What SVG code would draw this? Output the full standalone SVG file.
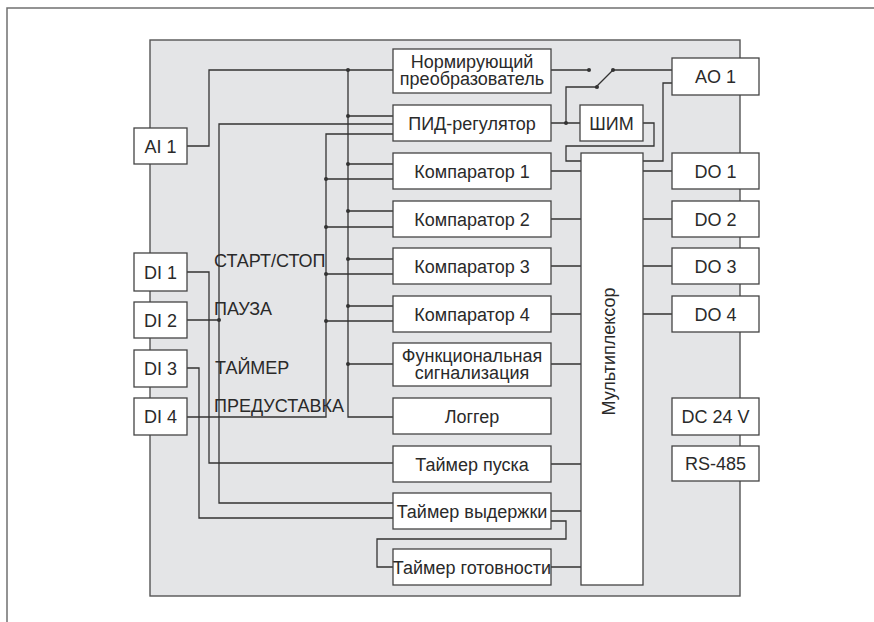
<svg xmlns="http://www.w3.org/2000/svg" width="874" height="622" viewBox="0 0 874 622">
<style>
.frame{fill:none;stroke:#707070;stroke-width:1.5}
.panel{fill:#e4e5e7;stroke:#555;stroke-width:1.4}
.box{fill:#fff;stroke:#444;stroke-width:1.3}
.w{fill:none;stroke:#333;stroke-width:1.3}
.dot{fill:#333}
text{font-family:"Liberation Sans",Arial,sans-serif;font-size:18px;fill:#2a2a2a}
.c{text-anchor:middle}
</style>
<rect width="874" height="622" fill="#fff"/>
<path class="frame" d="M7,622 V8 H874"/>
<rect class="panel" x="150" y="40" width="590" height="556"/>

<g id="connectors">
<path class="w" d="M187,146 H209 V70 H393"/>
<path class="w" d="M348,70 V417 H393 M348,116 H393 M348,164 H393 M348,211 H393 M348,259 H393 M348,306 H393 M348,364 H393"/>
<path class="w" d="M393,134 H326 V417 H187 M326,179 H393 M326,227 H393 M326,274 H393 M326,321 H393"/>
<path class="w" d="M393,124 H219 V503 H393 M187,320 H219"/>
<path class="w" d="M187,272 H209 V463 H393"/>
<path class="w" d="M187,368 H199 V518 H393"/>
<path class="w" d="M551,171 H581 M551,219 H581 M551,266 H581 M551,314 H581 M551,364 H581 M551,464 H581 M551,511 H581 M551,567 H581"/>
<path class="w" d="M551,521 H566 V539 H377 V567 H393"/>
<path class="w" d="M643,171 H672 M643,219 H672 M643,266 H672 M643,314 H672"/>
<path class="w" d="M551,70 H589 M613,70 H672 M613,70 L595,88"/>
<path class="w" d="M551,123 H580 M566,123 V87 H597"/>
<path class="w" d="M643,123 H654 V146 H566 V161 H581"/>
<path class="w" d="M643,161 H663 V83 H672"/>
<g class="dot">
<circle cx="348" cy="70" r="2"/><circle cx="348" cy="116" r="2"/><circle cx="348" cy="164" r="2"/>
<circle cx="348" cy="211" r="2"/><circle cx="348" cy="259" r="2"/><circle cx="348" cy="306" r="2"/>
<circle cx="348" cy="364" r="2"/>
<circle cx="326" cy="179" r="2"/><circle cx="326" cy="227" r="2"/><circle cx="326" cy="274" r="2"/>
<circle cx="326" cy="321" r="2"/>
<circle cx="219" cy="320" r="2"/>
<circle cx="589" cy="70" r="2"/><circle cx="613" cy="70" r="2"/><circle cx="597" cy="87" r="2"/>
<circle cx="566" cy="123" r="2"/>
</g>
</g>

<g id="labels">
<text x="214" y="267">СТАРТ/СТОП</text>
<text x="214" y="315">ПАУЗА</text>
<text x="215" y="374">ТАЙМЕР</text>
<text x="214" y="412">ПРЕДУСТАВКА</text>
</g>

<g id="norm"><rect class="box" x="393" y="49" width="158" height="44"/><text class="c" x="472" y="67.5">Нормирующий<tspan x="472" dy="17.3">преобразователь</tspan></text></g>
<g id="pid"><rect class="box" x="393" y="105" width="158" height="36"/><text class="c" x="472" y="129.5">ПИД-регулятор</text></g>
<g id="shim"><rect class="box" x="580" y="105" width="63" height="36"/><text class="c" x="611.5" y="129.5">ШИМ</text></g>
<g id="comp1"><rect class="box" x="393" y="153" width="158" height="36"/><text class="c" x="472" y="177.5">Компаратор 1</text></g>
<g id="comp2"><rect class="box" x="393" y="201" width="158" height="36"/><text class="c" x="472" y="225.5">Компаратор 2</text></g>
<g id="comp3"><rect class="box" x="393" y="248" width="158" height="36"/><text class="c" x="472" y="272.5">Компаратор 3</text></g>
<g id="comp4"><rect class="box" x="393" y="296" width="158" height="36"/><text class="c" x="472" y="320.5">Компаратор 4</text></g>
<g id="func"><rect class="box" x="393" y="343" width="158" height="43"/><text class="c" x="472" y="362">Функциональная<tspan x="472" dy="16.5">сигнализация</tspan></text></g>
<g id="logger"><rect class="box" x="393" y="398" width="158" height="36"/><text class="c" x="472" y="422.5">Логгер</text></g>
<g id="tstart"><rect class="box" x="393" y="446" width="158" height="36"/><text class="c" x="472" y="470.5">Таймер пуска</text></g>
<g id="thold"><rect class="box" x="393" y="493" width="158" height="36"/><text class="c" x="472" y="517.5">Таймер выдержки</text></g>
<g id="tready"><rect class="box" x="393" y="549" width="158" height="36"/><text class="c" x="472" y="573.5">Таймер готовности</text></g>
<g id="mux"><rect class="box" x="581" y="153" width="62" height="432"/><text class="c" transform="translate(615,351.5) rotate(-90)">Мультиплексор</text></g>
<g id="ao1"><rect class="box" x="672" y="58" width="87" height="37"/><text class="c" x="715.5" y="83">AO 1</text></g>
<g id="do1"><rect class="box" x="672" y="153" width="87" height="36"/><text class="c" x="715.5" y="177.5">DO 1</text></g>
<g id="do2"><rect class="box" x="672" y="201" width="87" height="36"/><text class="c" x="715.5" y="225.5">DO 2</text></g>
<g id="do3"><rect class="box" x="672" y="248" width="87" height="36"/><text class="c" x="715.5" y="272.5">DO 3</text></g>
<g id="do4"><rect class="box" x="672" y="296" width="87" height="36"/><text class="c" x="715.5" y="320.5">DO 4</text></g>
<g id="dc24"><rect class="box" x="672" y="398" width="87" height="37"/><text class="c" x="715.5" y="423">DC 24 V</text></g>
<g id="rs485"><rect class="box" x="672" y="446" width="87" height="35"/><text class="c" x="715.5" y="470">RS-485</text></g>
<g id="ai1"><rect class="box" x="134" y="128" width="53" height="36"/><text class="c" x="160.5" y="152.5">AI 1</text></g>
<g id="di1"><rect class="box" x="134" y="253" width="53" height="38"/><text class="c" x="160.5" y="278.5">DI 1</text></g>
<g id="di2"><rect class="box" x="134" y="302" width="53" height="36"/><text class="c" x="160.5" y="326.5">DI 2</text></g>
<g id="di3"><rect class="box" x="134" y="350" width="53" height="37"/><text class="c" x="160.5" y="375">DI 3</text></g>
<g id="di4"><rect class="box" x="134" y="398" width="53" height="37"/><text class="c" x="160.5" y="423">DI 4</text></g>
</svg>
